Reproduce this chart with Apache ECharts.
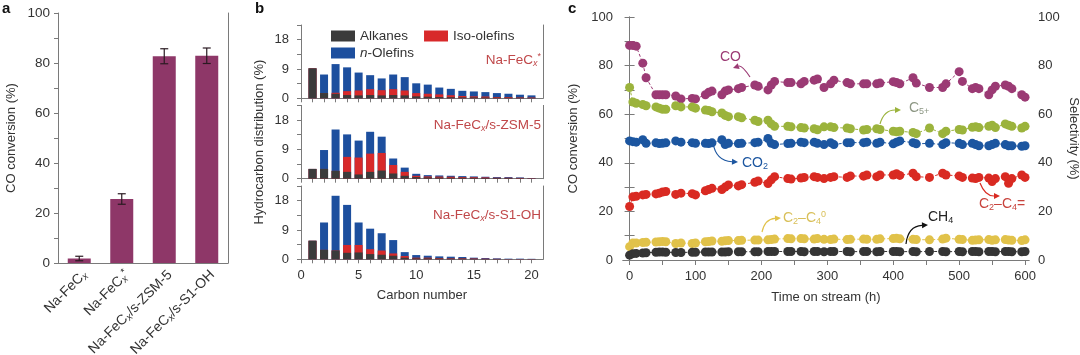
<!DOCTYPE html>
<html><head><meta charset="utf-8">
<script src="https://cdn.jsdelivr.net/npm/echarts@6/dist/echarts.min.js"></script>
<style>html,body{margin:0;padding:0;background:#fff}#c{width:1080px;height:355px}</style>
</head><body><div id="c"></div>
<script>
// ---------- Panel a ----------
const catA = ['Na-FeC{sx|x}', 'Na-FeC{sx|x}{sp|*}', 'Na-FeC{sx|x}/s-ZSM-5', 'Na-FeC{sx|x}/s-S1-OH'];
const convA = [1.8, 25.6, 82.7, 82.9];
const errA = [0.9, 2.1, 3.0, 3.1];
const ticksA = [0, 20, 40, 60, 80, 100];

// ---------- Panel b ----------
const carbonNum = [1,2,3,4,5,6,7,8,9,10,11,12,13,14,15,16,17,18,19,20];
const bLabels = ['Na-FeC{sx|x}{sp|*}', 'Na-FeC{sx|x}/s-ZSM-5', 'Na-FeC{sx|x}/s-S1-OH'];
// Na-FeCx*
const alk1 = [9.2,1.6,1.4,1.0,0.9,1.0,0.9,1.0,0.9,0.6,0.5,0.4,0.35,0.3,0.3,0.25,0.2,0.2,0.2,0.15];
const iso1 = [0,0,0.3,1.2,1.5,1.8,1.6,1.8,1.5,1.0,0.9,0.8,0.6,0.4,0.3,0.3,0.2,0.2,0.1,0.1];
const nol1 = [0,5.7,8.8,7.3,5.5,4.3,3.6,4.5,4.1,3.0,2.8,2.1,1.95,1.6,1.5,1.35,1.2,1.0,0.8,0.65];
// Na-FeCx/s-ZSM-5
const alk2 = [3.0,3.0,2.4,2.1,1.3,2.1,2.5,1.6,0.9,0.5,0.4,0.35,0.3,0.3,0.25,0.2,0.2,0.2,0.15,0.1];
const iso2 = [0,0,0,4.6,5.2,5.6,5.4,2.6,1.2,0.4,0.3,0.3,0.3,0.2,0.2,0.2,0.1,0.1,0.1,0.05];
const nol2 = [0,5.8,12.7,6.9,5.2,6.7,5.0,2.0,1.3,0.6,0.4,0.35,0.3,0.3,0.25,0.2,0.2,0.2,0.15,0.05];
// Na-FeCx/s-S1-OH
const alk3 = [5.7,2.9,2.7,2.0,2.1,1.6,1.4,1.1,0.5,0.3,0.3,0.25,0.2,0.2,0.15,0.1,0.1,0.05,0.05,0.05];
const iso3 = [0,0,0,2.4,2.3,1.5,1.3,0.7,0.5,0.2,0.2,0.15,0.1,0.1,0.1,0.1,0.05,0.05,0.05,0.05];
const nol3 = [0,8.4,16.8,12.3,6.9,6.3,5.3,4.1,1.2,0.8,0.6,0.5,0.5,0.4,0.25,0.2,0.15,0.1,0.1,0.05];
const bLabelTicks = [0, 9, 18];
const bXLabels = [0, 5, 10, 15, 20];

// ---------- Panel c ----------
const tC = [0,5,10,20,25,40,45,50,55,70,78,95,100,115,120,125,140,145,150,165,170,190,195,210,215,220,240,245,260,265,280,285,295,305,310,330,335,355,360,375,380,400,405,410,430,435,455,475,480,500,505,520,525,530,545,550,555,570,575,580,595,600];
const coConv = [88.3,88.3,88,81,75,68,68,68,68,67.5,66.3,66.5,66.3,68,69,69.5,68,69.5,70,70.5,71,72,71.5,70,72,73.5,73,73,72.5,73.5,74,74.5,71,72.5,74,73,72.5,72.5,72.5,72.5,72.8,73.4,73,72.5,75,72.8,71,71,72.5,77.5,73.5,70.5,71,70.5,68,70,71.5,72,71.5,70.5,68,67];
const c5Sel = [71,65,64.5,64,63.5,63,62.5,62,62,63.5,63,63,62.5,61.7,61.5,61,60.5,59.5,59,59,58.5,57.5,57,57.5,56,55,55,54.8,54.5,54.3,54,53.6,54.8,54.8,54.5,54.3,54,53.5,53.7,54,53.7,53,52.8,53,52.5,52,54.3,52,53,53.7,53.5,54.6,54.8,54.5,55,55.5,54.5,56,55.5,55,54.3,55];
const co2Sel = [49,48.7,48.5,49.5,48,48.2,47.9,48,48.2,49,48.5,48.3,48,48,47.9,48.2,49.5,47.5,48,47.9,48,48.3,48.5,50,48,47.5,47.9,48,48.5,48.3,48.5,48,47.5,48.3,47.5,48.3,48.3,48.3,48.5,48,48.5,47.8,48.5,49,48.3,47.8,48,47.5,48.3,48,47.5,48,47.5,47,47,47.5,48,47.5,47,47,46.8,47];
const oleSel = [22,26,26.2,26.8,27,27.2,27.5,28,28.2,27,27.5,27.3,26.8,28.5,29,29.5,29,30,30.9,30.5,31,32,32.5,31.5,33,34.3,33.5,33.3,33.7,34,34.3,34,33.5,34,34.3,34,34.6,34.5,35,34.3,35,35,35.5,34.8,35.7,34.3,34,35.7,35,34.6,34,33.7,33.5,34,33.7,32.3,33.5,34.3,31.6,33.5,35,34];
const parSel = [5.5,7,7,7.2,7.3,7.4,7.5,7.6,7.5,6.8,7,6.8,7,7.5,7.6,7.8,7.7,7.9,8,8,8.1,8.2,8.2,8.3,8.4,8.6,8.8,8.7,8.8,8.7,8.6,8.8,8.5,8.4,8.6,8.4,8.5,8.6,8.5,8.5,8.7,8.8,8.9,8.7,8.5,8.4,8.3,8.6,9,8.5,8.4,8.1,8.2,8.3,8.4,8.1,8.3,8.4,8.2,8.1,8,8.3];
const ch4Sel = [2,2.6,2.7,2.9,3,3.2,3.3,3.3,3.2,3.1,3.1,3.2,3.2,3.3,3.3,3.3,3.3,3.3,3.4,3.4,3.4,3.4,3.4,3.5,3.5,3.5,3.5,3.5,3.5,3.4,3.5,3.5,3.4,3.5,3.5,3.5,3.4,3.5,3.5,3.4,3.5,3.5,3.5,3.4,3.5,3.4,3.5,3.5,3.4,3.5,3.4,3.5,3.5,3.4,3.5,3.5,3.4,3.5,3.5,3.4,3.4,3.5];
const cXLabels = [0,100,200,300,400,500,600];
const cXTicks = [0,50,100,150,200,250,300,350,400,450,500,550,600];

// ---------- styles ----------
const FONT = 'Liberation Sans, Arial, Helvetica, sans-serif';
const AX = '#7a7a7a', TXT = '#333';
const C_PLUM = '#8e3768', C_BLK = '#3b3b3b', C_BLU = '#1d4f9e', C_RED = '#d8292a';
const C_LAB = '#c0484a';
const cCol = {co:'#9b3a74', c5:'#9bb33c', co2:'#1c56a0', ole:'#d92a22', par:'#e1c24a', ch4:'#353535'};

const richSub = {
  sx:{fontSize:9, fontStyle:'italic', verticalAlign:'bottom', lineHeight:9, fontFamily:FONT},
  s:{fontSize:9, verticalAlign:'bottom', lineHeight:9, fontFamily:FONT},
  sp:{fontSize:9, verticalAlign:'top', lineHeight:9, fontFamily:FONT},
  p:{fontSize:9, verticalAlign:'top', lineHeight:9, fontFamily:FONT}
};
function richFor(color, size){
  const r = {};
  for (const k in richSub){ r[k] = Object.assign({color:color, fill:color}, richSub[k], size ? {fontSize:size} : {}); }
  return r;
}

const zip = (x, y) => x.map((v, i) => [v, y[i]]);
const range = (a, b) => { const r = []; for (let i = a; i <= b; i++) r.push(i); return r; };
const addArr = (...arrs) => arrs[0].map((_, i) => arrs.reduce((s, a) => s + a[i], 0));

const grids = [
  {left:58, top:13, width:170, height:250},
  {left:301, top:25, width:242, height:73.3},
  {left:301, top:105.4, width:242, height:73.3},
  {left:301, top:186, width:242, height:73.3},
  {left:623, top:17, width:406, height:243}
].map(g => Object.assign(g, {outerBoundsMode:'none', containLabel:false}));

const xAxes = [], yAxes = [], series = [];

// Panel a axes
xAxes.push({type:'category', gridIndex:0, data:catA,
  axisLine:{lineStyle:{color:AX}}, axisTick:{show:false},
  axisLabel:{rotate:45, color:TXT, fontSize:14, fontFamily:FONT, margin:4, lineHeight:16, interval:0,
    verticalAlign:'top', rich:richFor(TXT, 10)}});
yAxes.push({type:'value', gridIndex:0, min:0, max:100, interval:20,
  name:'CO conversion (%)', nameLocation:'middle', nameGap:40,
  nameTextStyle:{color:TXT, fontSize:13, fontFamily:FONT},
  axisLine:{show:true, lineStyle:{color:AX}},
  axisTick:{show:true, length:4, lineStyle:{color:AX}, customValues:[0,10,20,30,40,50,60,70,80,90,100]},
  axisLabel:{color:TXT, fontSize:13.5, fontFamily:FONT, margin:8, customValues:ticksA},
  splitLine:{show:false}});
yAxes.push({type:'value', gridIndex:0, position:'right', min:0, max:100,
  axisLine:{show:true, lineStyle:{color:AX}}, axisTick:{show:false}, axisLabel:{show:false}, splitLine:{show:false}});

series.push({type:'bar', xAxisIndex:0, yAxisIndex:0, data:convA, barWidth:23, itemStyle:{color:C_PLUM}, silent:true});
series.push({type:'custom', xAxisIndex:0, yAxisIndex:0,
  data: convA.map((v, i) => [i, v, errA[i]]),
  encode:{x:0, y:1}, silent:true, z:5,
  renderItem: function(params, api){
    const i = api.value(0), v = api.value(1), e = api.value(2);
    const top = api.coord([i, v + e]), bot = api.coord([i, v - e]);
    const w = 4, st = {stroke:'#2a1a22', lineWidth:1.2};
    return {type:'group', children:[
      {type:'line', shape:{x1:top[0], y1:top[1], x2:bot[0], y2:bot[1]}, style:st},
      {type:'line', shape:{x1:top[0]-w, y1:top[1], x2:top[0]+w, y2:top[1]}, style:st},
      {type:'line', shape:{x1:bot[0]-w, y1:bot[1], x2:bot[0]+w, y2:bot[1]}, style:st}
    ]};
  }});

// Panel b axes and series
const bData = [[alk1, iso1, nol1], [alk2, iso2, nol2], [alk3, iso3, nol3]];
for (let k = 0; k < 3; k++) {
  const g = k + 1;
  const last = k === 2;
  xAxes.push({type:'value', gridIndex:g, min:0, max:21,
    name: last ? 'Carbon number' : '', nameLocation:'middle', nameGap:30,
    nameTextStyle:{color:TXT, fontSize:13, fontFamily:FONT},
    axisLine:{lineStyle:{color:AX}},
    axisTick:{show:true, length:4, lineStyle:{color:AX}, customValues:range(0, 20)},
    axisLabel:{show:last, color:TXT, fontSize:13, fontFamily:FONT, margin:10, customValues:bXLabels},
    splitLine:{show:false}});
  yAxes.push({type:'value', gridIndex:g, min:0, max:22.5, interval:4.5,
    name: k === 1 ? 'Hydrocarbon distribution (%)' : '', nameLocation:'middle', nameGap:35,
    nameTextStyle:{color:TXT, fontSize:13, fontFamily:FONT},
    axisLine:{show:true, lineStyle:{color:AX}},
    axisTick:{show:true, length:4, lineStyle:{color:AX}},
    axisLabel:{color:TXT, fontSize:13, fontFamily:FONT, margin:12, customValues:bLabelTicks},
    splitLine:{show:false}});
}
for (let k = 0; k < 3; k++) {
  yAxes.push({type:'value', gridIndex:k + 1, position:'right', min:0, max:22.5,
    axisLine:{show:true, lineStyle:{color:AX}}, axisTick:{show:false}, axisLabel:{show:false}, splitLine:{show:false}});
}
// stacked bars drawn as cumulative layers (top layer first, overlapped)
for (let k = 0; k < 3; k++) {
  const [alk, iso, nol] = bData[k];
  const layers = [
    ['n-Olefins', addArr(alk, iso, nol), C_BLU],
    ['Iso-olefins', addArr(alk, iso), C_RED],
    ['Alkanes', alk, C_BLK]
  ];
  layers.forEach(([nm, vals, col], j) => {
    series.push({type:'bar', name:nm, xAxisIndex:k + 1, yAxisIndex:k + 2,
      barWidth:8, barGap:'-100%', data:zip(carbonNum, vals), z:2 + j,
      itemStyle:{color:col}, silent:true});
  });
}

// Panel c axes
xAxes.push({type:'value', gridIndex:4, min:-10, max:606,
  name:'Time on stream (h)', nameLocation:'middle', nameGap:31,
  nameTextStyle:{color:TXT, fontSize:13, fontFamily:FONT},
  axisLine:{lineStyle:{color:AX}},
  axisTick:{show:true, length:5, lineStyle:{color:AX}, customValues:cXTicks},
  axisLabel:{color:TXT, fontSize:13, fontFamily:FONT, margin:10, customValues:cXLabels},
  splitLine:{show:false}});
xAxes.push({type:'value', gridIndex:4, position:'top', min:-10, max:606,
  axisLine:{show:true, lineStyle:{color:AX}}, axisTick:{show:false}, axisLabel:{show:false}, splitLine:{show:false}});
const cYTicks = [0,10,20,30,40,50,60,70,80,90,100];
yAxes.push({type:'value', gridIndex:4, min:0, max:100, interval:20,
  name:'CO conversion (%)', nameLocation:'middle', nameGap:43,
  nameTextStyle:{color:TXT, fontSize:13, fontFamily:FONT},
  axisLine:{show:true, lineStyle:{color:AX}},
  axisTick:{show:true, length:5, lineStyle:{color:AX}, customValues:cYTicks},
  axisLabel:{color:TXT, fontSize:13, fontFamily:FONT, margin:10},
  splitLine:{show:false}});
yAxes.push({type:'value', gridIndex:4, position:'right', min:0, max:100, interval:20,
  name:'Selectivity (%)', nameLocation:'middle', nameGap:38, nameRotate:-90,
  nameTextStyle:{color:TXT, fontSize:13, fontFamily:FONT},
  axisLine:{show:true, lineStyle:{color:AX}},
  axisTick:{show:true, length:5, lineStyle:{color:AX}, customValues:cYTicks},
  axisLabel:{color:TXT, fontSize:13, fontFamily:FONT, margin:9},
  splitLine:{show:false}});

const cSeries = [
  ['CO', coConv, cCol.co, 8],
  ['C5+', c5Sel, cCol.c5, 9],
  ['CO2', co2Sel, cCol.co2, 9],
  ['C2-C4=', oleSel, cCol.ole, 9],
  ['C2-C4 paraffin', parSel, cCol.par, 9],
  ['CH4', ch4Sel, cCol.ch4, 9]
];
cSeries.forEach(([nm, vals, col, yi]) => {
  series.push({type:'line', name:nm, xAxisIndex:4, yAxisIndex:yi, data:zip(tC, vals),
    symbol:'circle', symbolSize:9, showSymbol:true, silent:true,
    itemStyle:{color:col}, lineStyle:{color:col, width:1, type:[3, 2]}});
});

// ---------- annotations ----------
function arrowEl(p0, c, p1, color){
  const dx = p1[0] - c[0], dy = p1[1] - c[1];
  const L = Math.hypot(dx, dy) || 1, ux = dx / L, uy = dy / L;
  const h = 6, w = 3;
  const bx = p1[0] - ux * h, by = p1[1] - uy * h;
  return [
    {type:'bezierCurve', shape:{x1:p0[0], y1:p0[1], cpx1:c[0], cpy1:c[1], x2:bx, y2:by},
      style:{stroke:color, lineWidth:1.2, fill:'none'}, silent:true},
    {type:'polygon', shape:{points:[[p1[0], p1[1]], [bx - uy * w, by + ux * w], [bx + uy * w, by - ux * w]]},
      style:{fill:color}, silent:true}
  ];
}
function textEl(x, y, text, color, size, align, bold){
  return {type:'text', x:x, y:y, silent:true, style:{
    text:text, fill:color, fontSize:size || 13, fontFamily:FONT, fontWeight: bold ? 'bold' : 'normal',
    align: align || 'left', textAlign: align || 'left', verticalAlign:'middle', textVerticalAlign:'middle',
    lineHeight:16, rich:richFor(color)}};
}

const graphics = [
  textEl(2, 9, 'a', '#111', 15, 'left', true),
  textEl(255, 9, 'b', '#111', 15, 'left', true),
  textEl(568, 9, 'c', '#111', 15, 'left', true),
  textEl(541, 60, bLabels[0], C_LAB, 13.5, 'right'),
  textEl(541, 125, bLabels[1], C_LAB, 13.5, 'right'),
  textEl(541, 215, bLabels[2], C_LAB, 13.5, 'right'),
  textEl(720, 57, 'CO', cCol.co, 14),
  textEl(909, 108, 'C{s|5+}', '#8d9784', 14),
  textEl(742, 163, 'CO{s|2}', cCol.co2, 14),
  textEl(979, 204, 'C{s|2}–C{s|4}=', '#c8433d', 14),
  textEl(783, 218, 'C{s|2}–C{s|4}{p|0}', '#d9c05a', 14),
  textEl(928, 217, 'CH{s|4}', '#222', 14)
].concat(
  arrowEl([750, 77], [742, 65], [733, 68], cCol.co),
  arrowEl([880, 124], [884, 110], [901, 110], cCol.c5),
  arrowEl([713, 143], [716, 161], [738, 162], cCol.co2),
  arrowEl([980, 183], [985, 196], [1000, 196], cCol.ole),
  arrowEl([762, 232], [765, 219], [781, 218], cCol.par),
  arrowEl([906, 244], [908, 226], [928, 225], '#111')
);

const legendText = {color:TXT, fontSize:13.5, fontFamily:FONT, rich:{i:{fontStyle:'italic', fontSize:13.5, fontFamily:FONT, color:TXT}}};
const option = {
  animation:false,
  backgroundColor:'#fff',
  textStyle:{fontFamily:FONT},
  grid:grids,
  xAxis:xAxes,
  yAxis:yAxes,
  legend:[
    {data:['Alkanes', 'Iso-olefins'], left:326, top:24, itemWidth:24, itemHeight:11, itemGap:16,
      icon:'rect', textStyle:legendText, selectedMode:false},
    {data:['n-Olefins'], left:326, top:41, itemWidth:24, itemHeight:11, icon:'rect',
      textStyle:legendText, selectedMode:false, formatter: n => '{i|n}-Olefins'}
  ],
  graphic:graphics,
  series:series
};
const chart = echarts.init(document.getElementById('c'), null, {renderer:'canvas'});
chart.setOption(option);
</script></body></html>
